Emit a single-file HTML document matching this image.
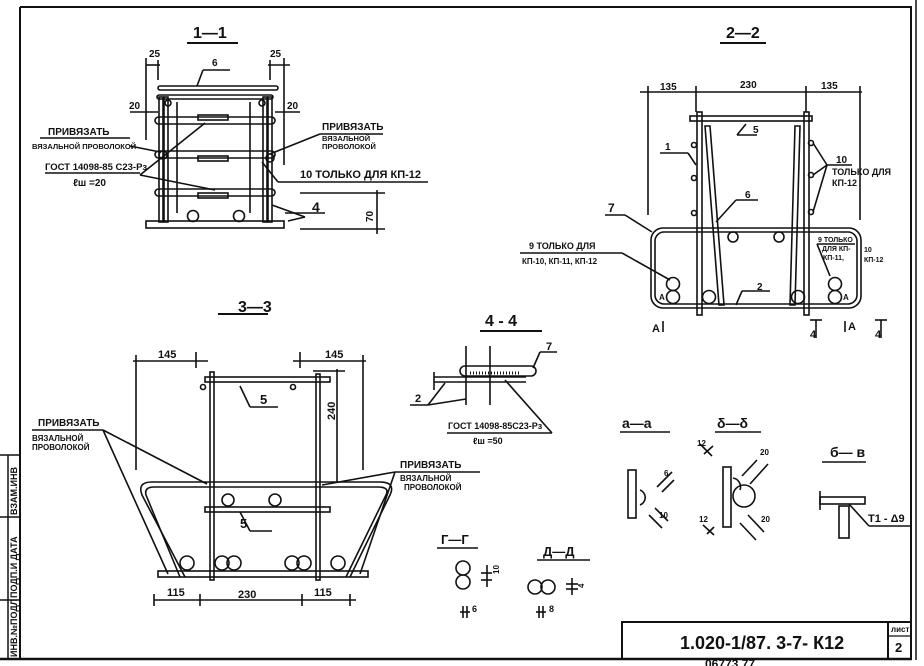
<!DOCTYPE html>
<html><head><meta charset="utf-8"><style>
html,body{margin:0;padding:0;background:#fff;}
svg{display:block;}
text{font-family:"Liberation Sans","DejaVu Sans",sans-serif;font-weight:bold;fill:#111;}
</style></head><body>
<svg width="924" height="666" viewBox="0 0 924 666" xmlns="http://www.w3.org/2000/svg">
<rect width="924" height="666" fill="#fff"/>
<g stroke="#111" fill="none" stroke-width="2">
<!-- frame -->
<line x1="20" y1="7" x2="912" y2="7"/>
<line x1="20" y1="7" x2="20" y2="659"/>
<line x1="911" y1="7" x2="911" y2="659"/>
<line x1="0" y1="659" x2="912" y2="659" stroke-width="2.5"/>
<line x1="916" y1="0" x2="916" y2="660" stroke-width="1.5"/>
<line x1="0" y1="455" x2="20" y2="455" stroke-width="1.5"/>
<line x1="0" y1="517" x2="20" y2="517" stroke-width="1.5"/>
<line x1="0" y1="600" x2="20" y2="600" stroke-width="1.5"/>
<line x1="8" y1="455" x2="8" y2="659" stroke-width="1.5"/>
<!-- title block -->
<rect x="622" y="622" width="289" height="37"/>
<line x1="888" y1="622" x2="888" y2="659"/>
<line x1="888" y1="636" x2="911" y2="636" stroke-width="1.2"/>
</g>
<g font-size="9">
<text transform="translate(17,515) rotate(-90)" font-size="9">ВЗАМ.ИНВ</text>
<text transform="translate(17,598) rotate(-90)" font-size="9">ПОДП.И ДАТА</text>
<text transform="translate(17,657) rotate(-90)" font-size="9">ИНВ.№ПОДЛ</text>
</g>
<text x="680" y="649" font-size="18" font-weight="normal">1.020-1/87.  3-7- К12</text>
<text x="891" y="632" font-size="8">лист</text>
<text x="895" y="652" font-size="13">2</text>
<text x="705" y="668" font-size="12" font-weight="normal">06773   77</text>

<!-- ===== 1-1 ===== -->
<text x="193" y="38" font-size="16">1—1</text>
<line x1="187" y1="43" x2="238" y2="43" stroke="#111" stroke-width="2"/>
<g stroke="#111" fill="none" stroke-width="1.6">
<rect x="146" y="221" width="138" height="7"/>
<rect x="158" y="86" width="120" height="4" rx="2"/>
<rect x="157" y="95" width="116" height="4" rx="2"/>
<rect x="159" y="97" width="4" height="125"/>
<rect x="164" y="97" width="4" height="125"/>
<rect x="263" y="97" width="4" height="125"/>
<rect x="268" y="97" width="4" height="125"/>
<rect x="155" y="117" width="120" height="7" rx="3.5"/>
<rect x="155" y="151" width="120" height="7" rx="3.5"/>
<rect x="155" y="189" width="120" height="7" rx="3.5"/>
<rect x="198" y="115" width="30" height="5"/>
<rect x="198" y="156" width="30" height="5"/>
<rect x="198" y="193" width="30" height="5"/>
<line x1="177" y1="102" x2="177" y2="213"/>
<line x1="250" y1="102" x2="250" y2="213"/>
<circle cx="193" cy="216" r="5.5"/><circle cx="239" cy="216" r="5.5"/>
<circle cx="168" cy="103" r="3"/><circle cx="262" cy="103" r="3"/>
<circle cx="163" cy="155" r="4"/><circle cx="270" cy="158" r="4"/>
<!-- dims -->
<line x1="146" y1="65" x2="160" y2="65"/><line x1="146" y1="58" x2="146" y2="140"/><line x1="158" y1="60" x2="158" y2="80"/>
<line x1="268" y1="65" x2="290" y2="65"/><line x1="270" y1="60" x2="270" y2="80"/><line x1="284" y1="58" x2="284" y2="165"/>
<line x1="130" y1="112" x2="158" y2="112"/><line x1="275" y1="112" x2="300" y2="112"/>
<line x1="300" y1="193" x2="385" y2="193"/><line x1="300" y1="229" x2="385" y2="229"/><line x1="377" y1="190" x2="377" y2="234"/>
<!-- leaders -->
<line x1="203" y1="70" x2="230" y2="70"/><line x1="203" y1="70" x2="197" y2="86"/>
<line x1="40" y1="138" x2="130" y2="138"/><line x1="130" y1="146" x2="160" y2="152"/>
<line x1="45" y1="173" x2="140" y2="173"/><line x1="140" y1="175" x2="205" y2="123"/><line x1="140" y1="175" x2="215" y2="190"/>
<line x1="320" y1="134" x2="383" y2="134"/><line x1="320" y1="134" x2="270" y2="154"/>
<line x1="278" y1="182" x2="428" y2="182"/><line x1="262" y1="162" x2="278" y2="182"/>
<line x1="285" y1="213" x2="325" y2="213"/><line x1="272" y1="205" x2="305" y2="217"/><line x1="288" y1="221" x2="305" y2="217"/>
</g>
<g font-size="10">
<text x="149" y="57">25</text><text x="270" y="57">25</text>
<text x="212" y="66">6</text>
<text x="129" y="109">20</text><text x="287" y="109">20</text>
<text x="48" y="135">ПРИВЯЗАТЬ</text>
<text x="32" y="149" font-size="7.5">ВЯЗАЛЬНОЙ ПРОВОЛОКОЙ</text>
<text x="45" y="170" font-size="9.5">ГОСТ 14098-85 С23-Рз</text>
<text x="73" y="186">ℓш =20</text>
<text x="322" y="130">ПРИВЯЗАТЬ</text>
<text x="322" y="141" font-size="7.5">ВЯЗАЛЬНОЙ</text>
<text x="322" y="149" font-size="7.5">ПРОВОЛОКОЙ</text>
<text x="300" y="178" font-size="11">10  ТОЛЬКО ДЛЯ КП-12</text>
<text x="312" y="212" font-size="14">4</text>
<text transform="translate(373,222) rotate(-90)">70</text>
</g>

<!-- ===== 2-2 ===== -->
<text x="726" y="38" font-size="16">2—2</text>
<line x1="720" y1="43" x2="766" y2="43" stroke="#111" stroke-width="2"/>
<g stroke="#111" fill="none" stroke-width="1.6">
<line x1="640" y1="92" x2="862" y2="92"/>
<line x1="648" y1="86" x2="648" y2="215"/><line x1="696" y1="86" x2="696" y2="112"/><line x1="806" y1="86" x2="806" y2="112"/><line x1="860" y1="86" x2="860" y2="220"/>
<rect x="690" y="116" width="122" height="5"/>
<rect x="697" y="112" width="5" height="203"/>
<rect x="804" y="112" width="5" height="203"/>
<polygon points="705,126 710,126 724,305 719,305"/>
<polygon points="795,126 800,126 795,305 790,305"/>
<rect x="651" y="228" width="210" height="80" rx="12"/>
<rect x="655" y="232" width="202" height="72" rx="9"/>
<circle cx="733" cy="237" r="5"/><circle cx="779" cy="237" r="5"/>
<circle cx="673" cy="284" r="6.5"/><circle cx="673" cy="297" r="6.5"/>
<circle cx="709" cy="297" r="6.5"/><circle cx="798" cy="297" r="6.5"/>
<circle cx="835" cy="284" r="6.5"/><circle cx="835" cy="297" r="6.5"/>
<circle cx="694" cy="145" r="2.5"/><circle cx="694" cy="178" r="2.5"/><circle cx="694" cy="213" r="2.5"/>
<circle cx="811" cy="143" r="2.5"/><circle cx="811" cy="175" r="2.5"/><circle cx="811" cy="212" r="2.5"/>
<line x1="737" y1="135" x2="757" y2="135"/><line x1="737" y1="135" x2="746" y2="124"/>
<line x1="660" y1="153" x2="688" y2="153"/><line x1="688" y1="153" x2="696" y2="165"/>
<line x1="736" y1="200" x2="758" y2="200"/><line x1="736" y1="200" x2="716" y2="222"/>
<line x1="605" y1="215" x2="625" y2="215"/><line x1="625" y1="215" x2="652" y2="232"/>
<line x1="520" y1="253" x2="622" y2="253"/><line x1="622" y1="253" x2="670" y2="280"/>
<line x1="813" y1="143" x2="827" y2="165"/><line x1="813" y1="175" x2="827" y2="165"/><line x1="813" y1="212" x2="827" y2="165"/><line x1="827" y1="165" x2="852" y2="165"/>
<line x1="817" y1="244" x2="855" y2="244"/><line x1="817" y1="244" x2="830" y2="276"/>
<line x1="742" y1="291" x2="770" y2="291"/><line x1="742" y1="291" x2="736" y2="305"/>
<line x1="663" y1="321" x2="663" y2="332"/><line x1="845" y1="321" x2="845" y2="332"/>
<line x1="816" y1="320" x2="816" y2="338"/><line x1="810" y1="320" x2="822" y2="320"/>
<line x1="881" y1="320" x2="881" y2="338"/><line x1="875" y1="320" x2="887" y2="320"/>
</g>
<g font-size="10">
<text x="660" y="90">135</text><text x="740" y="88">230</text><text x="821" y="89">135</text>
<text x="753" y="133">5</text><text x="665" y="150">1</text>
<text x="836" y="163">10</text><text x="832" y="175" font-size="9">ТОЛЬКО ДЛЯ</text><text x="832" y="186" font-size="9">КП-12</text>
<text x="745" y="198">6</text><text x="608" y="212" font-size="12">7</text>
<text x="529" y="249" font-size="9">9 ТОЛЬКО ДЛЯ</text><text x="522" y="264" font-size="8">КП-10, КП-11, КП-12</text>
<text x="818" y="242" font-size="7">9 ТОЛЬКО</text><text x="822" y="251" font-size="7">ДЛЯ КП-</text><text x="823" y="260" font-size="7">КП-11,</text>
<text x="864" y="252" font-size="7">10</text><text x="864" y="262" font-size="7">КП-12</text>
<text x="757" y="290">2</text>
<text x="659" y="300" font-size="8">А</text><text x="843" y="300" font-size="8">А</text>
<text x="652" y="332" font-size="11">А</text><text x="848" y="330" font-size="11">А</text>
<text x="810" y="338" font-size="11">4</text><text x="875" y="338" font-size="11">4</text>
</g>

<!-- ===== 3-3 ===== -->
<text x="238" y="312" font-size="16">3—3</text>
<line x1="218" y1="314" x2="268" y2="314" stroke="#111" stroke-width="2"/>
<g stroke="#111" fill="none" stroke-width="1.6">
<line x1="133" y1="361" x2="208" y2="361"/><line x1="136" y1="355" x2="136" y2="470"/><line x1="196" y1="352" x2="196" y2="368"/>
<line x1="293" y1="361" x2="366" y2="361"/><line x1="300" y1="352" x2="300" y2="368"/><line x1="363" y1="355" x2="363" y2="470"/>
<line x1="313" y1="371" x2="345" y2="371"/><line x1="337" y1="369" x2="337" y2="483"/>
<rect x="205" y="377" width="125" height="5"/>
<rect x="210" y="372" width="4" height="208"/>
<rect x="316" y="374" width="4" height="206"/>
<path d="M185,577 L142,495 Q137,482 152,482 L380,482 Q396,482 390,495 L350,577"/>
<path d="M180,577 L146,495 Q144,487 154,487 L378,487 Q390,487 386,495 L346,577"/>
<rect x="205" y="507" width="125" height="5"/>
<rect x="158" y="571" width="210" height="6"/>
<circle cx="228" cy="500" r="6"/><circle cx="275" cy="500" r="6"/>
<circle cx="187" cy="563" r="7"/><circle cx="222" cy="563" r="7"/><circle cx="234" cy="563" r="7"/>
<circle cx="292" cy="563" r="7"/><circle cx="304" cy="563" r="7"/><circle cx="338" cy="563" r="7"/>
<circle cx="203" cy="387" r="2.5"/><circle cx="293" cy="387" r="2.5"/>
<line x1="240" y1="386" x2="250" y2="407"/><line x1="250" y1="407" x2="278" y2="407"/>
<line x1="240" y1="512" x2="250" y2="531"/><line x1="250" y1="531" x2="272" y2="531"/>
<line x1="32" y1="430" x2="103" y2="430"/><line x1="103" y1="430" x2="207" y2="484"/><line x1="103" y1="430" x2="168" y2="574"/>
<line x1="395" y1="472" x2="480" y2="472"/><line x1="395" y1="472" x2="322" y2="485"/><line x1="395" y1="472" x2="360" y2="574"/>
<line x1="154" y1="600" x2="356" y2="600"/><line x1="154" y1="594" x2="154" y2="606"/><line x1="200" y1="594" x2="200" y2="606"/><line x1="302" y1="594" x2="302" y2="606"/><line x1="350" y1="594" x2="350" y2="606"/>
</g>
<g font-size="11">
<text x="158" y="358">145</text><text x="325" y="358">145</text>
<text x="260" y="404" font-size="13">5</text><text x="240" y="528" font-size="13">5</text>
<text transform="translate(335,420) rotate(-90)">240</text>
<text x="38" y="426" font-size="10">ПРИВЯЗАТЬ</text>
<text x="32" y="441" font-size="8">ВЯЗАЛЬНОЙ</text><text x="32" y="450" font-size="8">ПРОВОЛОКОЙ</text>
<text x="400" y="468" font-size="10">ПРИВЯЗАТЬ</text>
<text x="400" y="481" font-size="8">ВЯЗАЛЬНОЙ</text><text x="404" y="490" font-size="8">ПРОВОЛОКОЙ</text>
<text x="167" y="596">115</text><text x="238" y="598">230</text><text x="314" y="596">115</text>
</g>

<!-- ===== 4-4 ===== -->
<text x="485" y="326" font-size="16">4 - 4</text>
<line x1="480" y1="331" x2="542" y2="331" stroke="#111" stroke-width="2"/>
<g stroke="#111" fill="none" stroke-width="1.6">
<line x1="466" y1="346" x2="466" y2="405"/><line x1="490" y1="346" x2="490" y2="405"/>
<rect x="460" y="366" width="76" height="10" rx="5"/>
<line x1="434" y1="377" x2="526" y2="377"/><line x1="434" y1="382" x2="526" y2="382"/><line x1="434" y1="372" x2="434" y2="390"/>
<line x1="470" y1="373" x2="520" y2="373" stroke-dasharray="1,2" stroke-width="3"/>
<line x1="540" y1="352" x2="557" y2="352"/><line x1="540" y1="352" x2="533" y2="368"/>
<line x1="410" y1="405" x2="428" y2="405"/><line x1="428" y1="405" x2="445" y2="383"/><line x1="428" y1="405" x2="466" y2="399"/>
<line x1="447" y1="433" x2="552" y2="433"/><line x1="552" y1="433" x2="505" y2="380"/>
</g>
<text x="546" y="350" font-size="11">7</text>
<text x="415" y="402" font-size="11">2</text>
<text x="448" y="429" font-size="9">ГОСТ 14098-85С23-Рз</text>
<text x="473" y="444" font-size="9">ℓш =50</text>

<!-- ===== г-г, д-д ===== -->
<text x="441" y="544" font-size="13">Г—Г</text>
<line x1="437" y1="548" x2="478" y2="548" stroke="#111" stroke-width="1.6"/>
<text x="543" y="556" font-size="13">Д—Д</text>
<line x1="537" y1="560" x2="590" y2="560" stroke="#111" stroke-width="1.6"/>
<g stroke="#111" fill="none" stroke-width="1.6">
<circle cx="463" cy="568" r="7"/><circle cx="463" cy="582" r="7"/>
<line x1="481" y1="573" x2="492" y2="573"/><line x1="481" y1="580" x2="492" y2="580"/><line x1="487" y1="565" x2="487" y2="587"/>
<circle cx="535" cy="587" r="7"/><circle cx="548" cy="587" r="7"/>
<line x1="566" y1="584" x2="578" y2="584"/><line x1="566" y1="589" x2="578" y2="589"/><line x1="572" y1="578" x2="572" y2="595"/>
<line x1="460" y1="612" x2="470" y2="612"/><line x1="463" y1="606" x2="463" y2="618"/><line x1="467" y1="606" x2="467" y2="618"/>
<line x1="536" y1="612" x2="546" y2="612"/><line x1="539" y1="606" x2="539" y2="618"/><line x1="543" y1="606" x2="543" y2="618"/>
</g>
<text transform="translate(499,574) rotate(-90)" font-size="8">10</text>
<text transform="translate(584,588) rotate(-90)" font-size="8">4</text>
<text x="472" y="612" font-size="9">6</text><text x="549" y="612" font-size="9">8</text>

<!-- ===== а-а б-б в-в ===== -->
<text x="622" y="428" font-size="14">а—а</text>
<line x1="620" y1="432" x2="670" y2="432" stroke="#111" stroke-width="1.6"/>
<text x="717" y="428" font-size="14">δ—δ</text>
<line x1="715" y1="432" x2="761" y2="432" stroke="#111" stroke-width="1.6"/>
<text x="830" y="457" font-size="14">б— в</text>
<line x1="822" y1="462" x2="866" y2="462" stroke="#111" stroke-width="1.6"/>
<g stroke="#111" fill="none" stroke-width="1.6">
<rect x="628" y="470" width="8" height="48"/>
<path d="M640,490 A8,8 0 0 1 640,505"/>
<line x1="657" y1="487" x2="672" y2="472"/><line x1="662" y1="492" x2="674" y2="480"/>
<line x1="649" y1="515" x2="662" y2="528"/><line x1="655" y1="508" x2="668" y2="521"/>
<rect x="723" y="467" width="8" height="60"/>
<circle cx="744" cy="496" r="11"/><path d="M733,478 A9,9 0 0 1 740,490"/>
<line x1="742" y1="476" x2="757" y2="460"/><line x1="750" y1="484" x2="768" y2="464"/>
<line x1="748" y1="515" x2="764" y2="532"/><line x1="740" y1="523" x2="756" y2="540"/>
<line x1="700" y1="444" x2="712" y2="456"/><line x1="704" y1="454" x2="713" y2="446"/>
<line x1="703" y1="525" x2="714" y2="535"/><line x1="707" y1="534" x2="714" y2="527"/>
<rect x="820" y="497" width="45" height="7"/>
<rect x="839" y="506" width="10" height="32"/>
<line x1="820" y1="491" x2="820" y2="510"/>
<line x1="849" y1="504" x2="869" y2="526"/><line x1="869" y1="526" x2="912" y2="526"/>
</g>
<g font-size="8">
<text x="664" y="476">6</text><text x="659" y="518">10</text>
<text x="697" y="446">12</text><text x="760" y="455">20</text>
<text x="699" y="522">12</text><text x="761" y="522">20</text>
</g>
<text x="868" y="522" font-size="11">Т1 - Δ9</text>
</svg>
</body></html>
